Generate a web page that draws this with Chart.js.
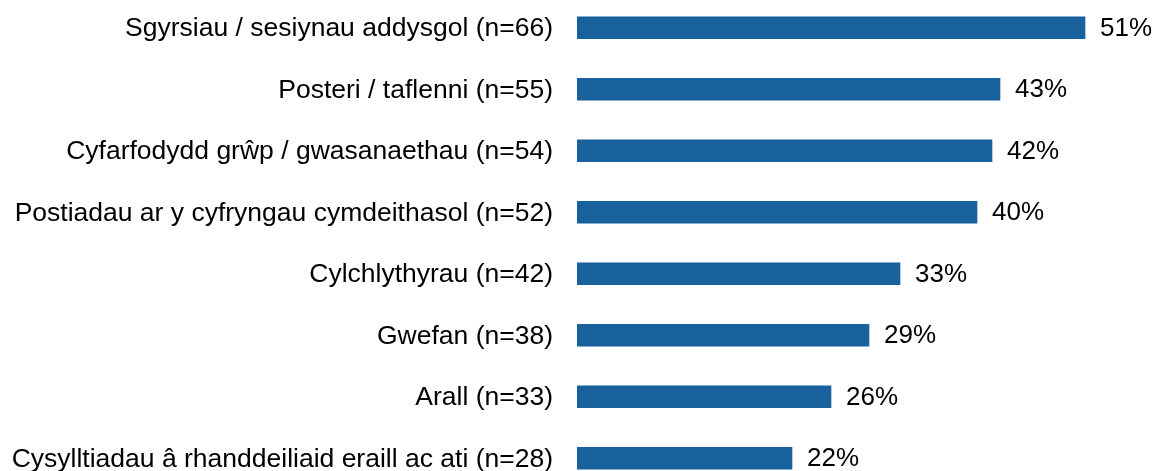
<!DOCTYPE html>
<html>
<head>
<meta charset="utf-8">
<script src="https://cdn.jsdelivr.net/npm/chart.js@4/dist/chart.umd.min.js"></script>
<style>
  html, body { margin: 0; padding: 0; background: #fff; overflow: hidden; }
  #wrap { position: absolute; left: 0; top: -3px; width: 1160px; height: 492px; }
</style>
</head>
<body>
<div id="wrap"><canvas id="chart"></canvas></div>
<script>
const categories = [
  "Sgyrsiau / sesiynau addysgol (n=66)",
  "Posteri / taflenni (n=55)",
  "Cyfarfodydd grŵp / gwasanaethau (n=54)",
  "Postiadau ar y cyfryngau cymdeithasol (n=52)",
  "Cylchlythyrau (n=42)",
  "Gwefan (n=38)",
  "Arall (n=33)",
  "Cysylltiadau â rhanddeiliaid eraill ac ati (n=28)"
]
const values = [50.8, 42.3, 41.5, 40.0, 32.3, 29.2, 25.4, 21.5]
const valueLabels = ["51%", "43%", "42%", "40%", "33%", "29%", "26%", "22%"]

const barColor = "#18619d"
const fontFamily = "'Liberation Sans', Arial, sans-serif"

// draws category names left of the axis and percentages right of each bar
const textPlugin = {
  id: "barTexts",
  afterDatasetsDraw(chart) {
    const ctx = chart.ctx
    const meta = chart.getDatasetMeta(0)
    const yScale = chart.scales.y
    ctx.save()
    ctx.fillStyle = "#000"
    ctx.textBaseline = "middle"
    meta.data.forEach((bar, i) => {
      ctx.font = "26.5px " + fontFamily
      ctx.textAlign = "right"
      ctx.fillText(categories[i], chart.chartArea.left - 24, yScale.getPixelForValue(i) + 1)
      ctx.font = "26px " + fontFamily
      ctx.textAlign = "left"
      ctx.fillText(valueLabels[i], bar.x + 15, bar.y + 1)
    })
    ctx.restore()
  }
}

new Chart(document.getElementById("chart").getContext("2d"), {
  type: "bar",
  data: {
    labels: categories,
    datasets: [{
      data: values,
      backgroundColor: barColor,
      borderWidth: 0,
      barThickness: 22
    }]
  },
  options: {
    indexAxis: "y",
    responsive: true,
    maintainAspectRatio: false,
    animation: false,
    layout: { padding: 0 },
    plugins: {
      legend: { display: false },
      tooltip: { enabled: false }
    },
    scales: {
      x: {
        min: 0,
        max: 58.3,
        display: false
      },
      y: {
        grid: { display: false },
        border: { display: false },
        ticks: { display: false },
        afterFit(axis) { axis.width = 577 }
      }
    }
  },
  plugins: [textPlugin]
})
</script>
</body>
</html>
